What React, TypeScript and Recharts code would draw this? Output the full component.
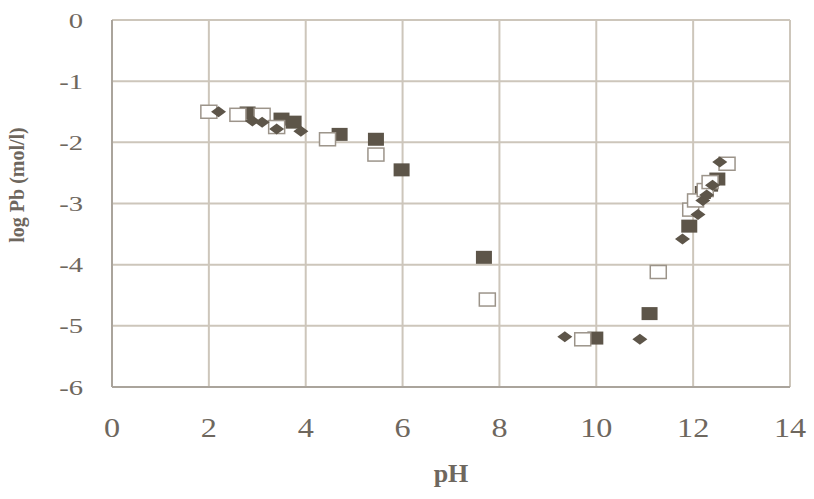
import React from "react";
import { ScatterChart, Scatter, XAxis, YAxis, CartesianGrid } from "recharts";

const xTicks = [0, 2, 4, 6, 8, 10, 12, 14];
const yTicks = [0, -1, -2, -3, -4, -5, -6];

const filledSquares = [
  { x: 2.8, y: -1.52 },
  { x: 3.5, y: -1.62 },
  { x: 3.75, y: -1.67 },
  { x: 4.7, y: -1.87 },
  { x: 5.45, y: -1.95 },
  { x: 5.98, y: -2.45 },
  { x: 7.68, y: -3.88 },
  { x: 9.98, y: -5.2 },
  { x: 11.1, y: -4.8 },
  { x: 11.92, y: -3.37 },
  { x: 12.2, y: -2.82 },
  { x: 12.35, y: -2.7 },
  { x: 12.5, y: -2.6 },
];

const openSquares = [
  { x: 2.0, y: -1.5 },
  { x: 2.6, y: -1.55 },
  { x: 3.1, y: -1.55 },
  { x: 3.4, y: -1.75 },
  { x: 4.45, y: -1.95 },
  { x: 5.45, y: -2.2 },
  { x: 7.75, y: -4.57 },
  { x: 9.72, y: -5.22 },
  { x: 11.28, y: -4.12 },
  { x: 11.95, y: -3.1 },
  { x: 12.05, y: -2.95 },
  { x: 12.25, y: -2.78 },
  { x: 12.35, y: -2.65 },
  { x: 12.7, y: -2.35 },
];

const diamonds = [
  { x: 2.2, y: -1.5 },
  { x: 2.9, y: -1.65 },
  { x: 3.1, y: -1.67 },
  { x: 3.4, y: -1.78 },
  { x: 3.9, y: -1.82 },
  { x: 9.35, y: -5.18 },
  { x: 10.9, y: -5.22 },
  { x: 11.78, y: -3.58 },
  { x: 12.1, y: -3.18 },
  { x: 12.2, y: -2.95 },
  { x: 12.28, y: -2.86 },
  { x: 12.4, y: -2.7 },
  { x: 12.55, y: -2.32 },
];

const DARK = "#5d5549";
const TEXT = "#6e675e";
const GRID = "#cdc6bb";
const AXIS = "#aaa49c";
const FONT = "Liberation Serif";

const FilledSquare = (p: any) => (
  <rect x={p.cx - 8} y={p.cy - 6.5} width={16} height={13} fill={DARK} />
);
const OpenSquare = (p: any) => (
  <rect x={p.cx - 8} y={p.cy - 6.5} width={16} height={13} fill="#ffffff" stroke="#9c948a" strokeWidth={1.5} />
);
const Diamond = (p: any) => (
  <polygon
    points={`${p.cx - 7.5},${p.cy} ${p.cx},${p.cy - 5.5} ${p.cx + 7.5},${p.cy} ${p.cx},${p.cy + 5.5}`}
    fill={DARK}
  />
);

const XTick = (p: any) => (
  <g transform={`translate(${p.x},${p.y}) scale(1.15,1)`}>
    <text x={0} y={0} dy={50} textAnchor="middle" fill={TEXT} fontSize={28} fontFamily={FONT}>
      {p.payload.value}
    </text>
  </g>
);

const YTick = (p: any) => (
  <g transform={`translate(${p.x},${p.y}) scale(1.3,1)`}>
    <text x={0} y={0} dy={7.5} textAnchor="end" fill={TEXT} fontSize={22} fontFamily={FONT}>
      {p.payload.value}
    </text>
  </g>
);

const YTitle = (p: any) => {
  const vb = p.viewBox || { x: 0, y: 20 };
  const cx = vb.x + 24;
  const cy = 185;
  return (
    <text
      x={cx}
      y={cy}
      transform={`rotate(-90, ${cx}, ${cy})`}
      textAnchor="middle"
      fill={TEXT}
      fontSize={20}
      fontWeight="bold"
      fontFamily={FONT}
    >
      log Pb (mol/l)
    </text>
  );
};

export default function App() {
  return (
    <div style={{ position: "absolute", left: 0, top: 0, background: "#fff" }}>
      <ScatterChart width={814} height={499} margin={{ top: 20, right: 24, bottom: 0, left: 0 }}>
        <CartesianGrid stroke={GRID} strokeWidth={2} />
        <XAxis
          type="number"
          dataKey="x"
          domain={[0, 14]}
          ticks={xTicks}
          height={112}
          tickLine={false}
          tickSize={0}
          tickMargin={0}
          axisLine={{ stroke: AXIS, strokeWidth: 2 }}
          tick={<XTick />}
          label={{ value: "pH", position: "insideBottom", offset: 17, fill: TEXT, fontSize: 26, fontWeight: "bold", fontFamily: FONT }}
        />
        <YAxis
          type="number"
          dataKey="y"
          domain={[-6, 0]}
          ticks={yTicks}
          width={112}
          tickLine={false}
          tickSize={0}
          tickMargin={29}
          axisLine={{ stroke: AXIS, strokeWidth: 2 }}
          tick={<YTick />}
          label={<YTitle />}
        />
        <Scatter data={filledSquares} shape={FilledSquare} isAnimationActive={false} />
        <Scatter data={openSquares} shape={OpenSquare} isAnimationActive={false} />
        <Scatter data={diamonds} shape={Diamond} isAnimationActive={false} />
      </ScatterChart>
    </div>
  );
}
